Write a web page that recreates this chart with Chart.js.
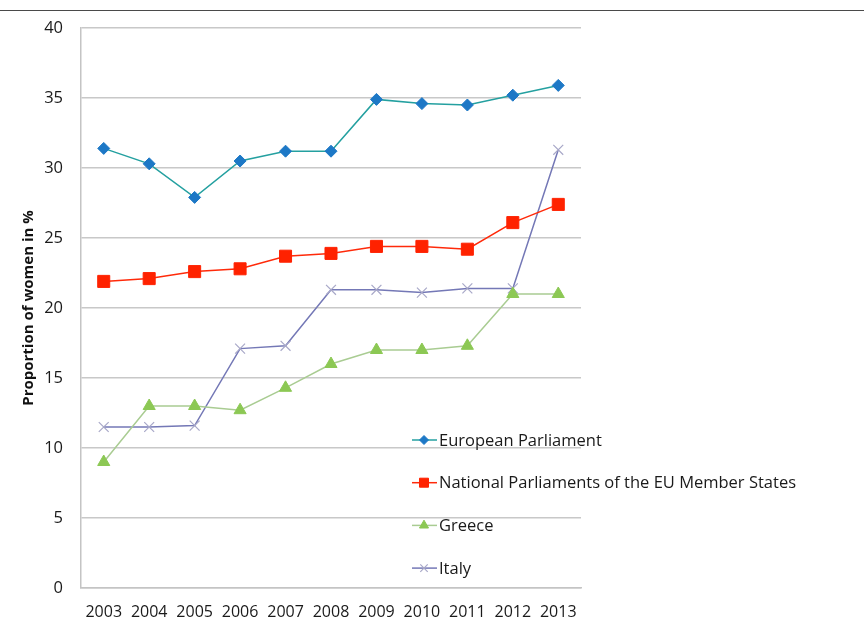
<!DOCTYPE html>
<html>
<head>
<meta charset="utf-8">
<script src="https://cdn.jsdelivr.net/npm/chart.js@4/dist/chart.umd.min.js"></script>
<style>
  html, body { margin: 0; padding: 0; background: #fff; }
  #wrap { width: 864px; height: 624px; }
</style>
</head>
<body>
<div id="wrap"><canvas id="myChart" width="864" height="624"></canvas></div>
<script>
const years = ['2003', '2004', '2005', '2006', '2007', '2008', '2009', '2010', '2011', '2012', '2013'];
const europeanParliament = [31.4, 30.3, 27.9, 30.5, 31.2, 31.2, 34.9, 34.6, 34.5, 35.2, 35.9];
const nationalParliaments = [21.9, 22.1, 22.6, 22.8, 23.7, 23.9, 24.4, 24.4, 24.2, 26.1, 27.4];
const greece = [9.0, 13.0, 13.0, 12.7, 14.3, 16.0, 17.0, 17.0, 17.3, 21.0, 21.0];
const italy = [11.5, 11.5, 11.6, 17.1, 17.3, 21.3, 21.3, 21.1, 21.4, 21.4, 31.3];
const yTicks = [0, 5, 10, 15, 20, 25, 30, 35, 40];

// legend sits inside the plot, bottom right, text spilling past the right edge
const insideLegend = {
  id: 'insideLegend',
  afterDraw(chart) {
    const c = chart.ctx;
    const area = chart.chartArea;
    const x0 = area.left + 331;
    let y = area.top + 412;
    c.save();
    chart.data.datasets.forEach(ds => {
      c.strokeStyle = ds.borderColor;
      c.lineWidth = 1.5;
      c.beginPath();
      c.moveTo(x0, y);
      c.lineTo(x0 + 25, y);
      c.stroke();
      c.fillStyle = ds.pointBackgroundColor;
      c.strokeStyle = ds.pointBorderColor;
      c.lineWidth = ds.pointBorderWidth;
      Chart.helpers.drawPoint(c, {
        pointStyle: ds.pointStyle,
        radius: ds.pointRadius * 0.75,
        borderWidth: ds.pointBorderWidth
      }, x0 + 12, y);
      c.fillStyle = '#1a1a1a';
      c.font = '16.5px "Open Sans"';
      c.textBaseline = 'middle';
      c.textAlign = 'left';
      c.fillText(ds.label, x0 + 27, y + 1);
      y += 42.7;
    });
    c.restore();
  }
};

// thin rule across the top of the page
const topRule = {
  id: 'topRule',
  beforeDraw(chart) {
    const c = chart.ctx;
    c.save();
    c.strokeStyle = '#4a4a4a';
    c.lineWidth = 1;
    c.beginPath();
    c.moveTo(0, 10.5);
    c.lineTo(chart.width, 10.5);
    c.stroke();
    c.restore();
  }
};

const ctx = document.getElementById('myChart');

new Chart(ctx, {
  type: 'line',
  data: {
    labels: years,
    datasets: [{
      label: 'European Parliament',
      data: europeanParliament,
      borderColor: '#24a0a0',
      pointBackgroundColor: '#1d78c6',
      pointBorderColor: '#1d78c6',
      pointStyle: 'rectRot',
      pointRadius: 6,
      pointBorderWidth: 1,
      borderWidth: 1.5
    }, {
      label: 'National Parliaments of the EU Member States',
      data: nationalParliaments,
      borderColor: '#ff2a0a',
      pointBackgroundColor: '#ff2200',
      pointBorderColor: '#ff2200',
      pointStyle: 'rect',
      pointRadius: 8.5,
      pointBorderWidth: 1,
      borderWidth: 1.5
    }, {
      label: 'Greece',
      data: greece,
      borderColor: '#a9cc92',
      pointBackgroundColor: '#8cc854',
      pointBorderColor: '#8cc854',
      pointStyle: 'triangle',
      pointRadius: 7,
      pointBorderWidth: 1,
      borderWidth: 1.5
    }, {
      label: 'Italy',
      data: italy,
      borderColor: '#7478b6',
      pointBackgroundColor: '#a8a8c8',
      pointBorderColor: '#a8a8c8',
      pointStyle: 'crossRot',
      pointRadius: 7,
      pointBorderWidth: 1.2,
      borderWidth: 1.5
    }]
  },
  options: {
    responsive: false,
    animation: false,
    layout: { padding: { top: 28, right: 283, left: 0, bottom: 0 } },
    plugins: {
      legend: { display: false },
      tooltip: { enabled: false }
    },
    scales: {
      x: {
        offset: true,
        grid: { display: false, drawTicks: false },
        border: { color: '#c4c4c4', width: 1.5 },
        ticks: { color: '#1a1a1a', font: { family: 'Open Sans', size: 16 }, padding: 15, maxRotation: 0, autoSkip: false },
        afterFit: s => { s.height = 36; }
      },
      y: {
        min: 0,
        max: 40,
        afterBuildTicks: s => { s.ticks = yTicks.map(v => ({ value: v })); },
        grid: { color: '#c8c8c8', lineWidth: 1.5, drawTicks: false },
        border: { color: '#c4c4c4', width: 1.5 },
        ticks: { color: '#1a1a1a', font: { family: 'Open Sans', size: 16.5 }, padding: 18 },
        title: {
          display: true,
          text: 'Proportion of women in %',
          color: '#111',
          font: { family: 'Open Sans', size: 15, weight: 'bold' },
          padding: { top: 20, bottom: 0 }
        },
        afterFit: s => { s.width = 81; }
      }
    }
  },
  plugins: [topRule, insideLegend]
});
</script>
</body>
</html>
